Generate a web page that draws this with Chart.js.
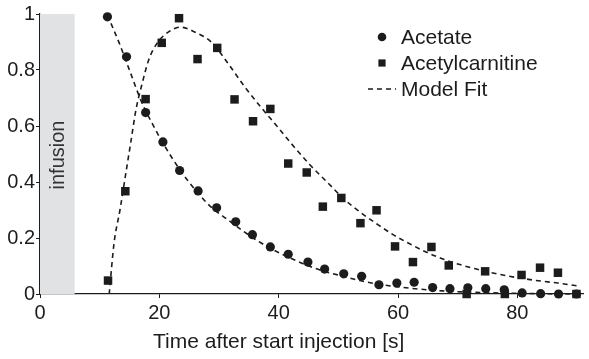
<!DOCTYPE html>
<html>
<head>
<meta charset="utf-8">
<script src="https://cdn.jsdelivr.net/npm/chart.js@4/dist/chart.umd.min.js"></script>
<style>
  html, body { margin: 0; padding: 0; background: #fff; }
  #wrap { width: 589px; height: 359px; }
</style>
</head>
<body>
<div id="wrap"><canvas id="chart" width="589" height="359"></canvas></div>
<script>
// measured points
const timeAcetate = [11.3, 14.5, 17.7, 20.6, 23.4, 26.5, 29.6, 32.8, 35.6, 38.6, 41.6, 44.9, 47.7, 50.9,
  53.9, 56.8, 59.8, 62.7, 65.8, 68.7, 71.7, 74.7, 77.8, 80.8, 83.9, 86.9, 89.9];
const acetate = [0.99, 0.847, 0.648, 0.543, 0.441, 0.368, 0.308, 0.258, 0.212, 0.168, 0.142, 0.114, 0.089, 0.072,
  0.063, 0.033, 0.039, 0.042, 0.023, 0.019, 0.022, 0.019, 0.015, 0.004, 0.001, 0.0, 0.0];

const timeCarnitine = [11.4, 14.3, 17.7, 20.4, 23.3, 26.4, 29.7, 32.6, 35.7, 38.6, 41.6, 44.7, 47.4, 50.5,
  53.7, 56.4, 59.5, 62.5, 65.6, 68.5, 71.5, 74.6, 77.9, 80.7, 83.8, 86.8, 89.9];
const carnitine = [0.048, 0.367, 0.696, 0.897, 0.985, 0.839, 0.879, 0.695, 0.617, 0.661, 0.466, 0.434, 0.312, 0.343,
  0.253, 0.299, 0.170, 0.114, 0.168, 0.102, 0.0, 0.081, 0.0, 0.068, 0.094, 0.076, 0.0];

// model fit curves
const fitTimeAcetate = [11.3, 13.3, 15.2, 16.9, 18.8, 21.0, 23.5, 26.1, 28.7, 31.5, 34.3, 37.0, 39.8, 42.6,
  45.3, 48.1, 50.9, 53.6, 56.4, 61.9, 67.4, 73.0, 78.5, 84.0, 90.1];
const fitAcetate = [0.996, 0.895, 0.788, 0.692, 0.609, 0.525, 0.442, 0.37, 0.31, 0.265, 0.221, 0.183, 0.15, 0.122,
  0.098, 0.078, 0.063, 0.048, 0.036, 0.021, 0.011, 0.006, 0.003, 0.001, 0.0];

const fitTimeCarnitine = [11.6, 12.4, 13.4, 14.3, 15.2, 16.1, 17.1, 18.2, 19.6, 21.6, 23.5, 26.0, 28.7, 31.5,
  34.3, 37.0, 39.8, 42.6, 45.3, 48.1, 50.9, 53.6, 56.4, 59.1, 61.9, 64.7, 67.4, 70.2, 73.0, 75.7, 78.5, 81.3,
  84.0, 86.8, 90.1];
const fitCarnitine = [0.0, 0.18, 0.30, 0.42, 0.54, 0.66, 0.75, 0.835, 0.895, 0.937, 0.953, 0.935, 0.90, 0.824,
  0.74, 0.668, 0.597, 0.525, 0.46, 0.40, 0.34, 0.293, 0.251, 0.213, 0.18, 0.15, 0.126, 0.106, 0.09, 0.076, 0.064,
  0.054, 0.046, 0.039, 0.029];

const xTickValues = [0, 20, 40, 60, 80];
const yTickValues = [0, 0.2, 0.4, 0.6, 0.8, 1];
const legendLabels = ["Acetate", "Acetylcarnitine", "Model Fit"];
const infusionLabel = "infusion";
const infusionEnd = 5.8;
const xTitle = "Time after start injection [s]";

const FONT = '"Liberation Sans", Arial, Helvetica, sans-serif';
const INK = "#1c1c1c";

function pairs(xs, ys) {
  return xs.map((x, i) => ({ x: x, y: ys[i] }));
}

// grey infusion band + rotated label
const infusionPlugin = {
  id: "infusion",
  beforeDatasetsDraw(chart) {
    const { ctx, scales: { x, y } } = chart;
    const left = x.getPixelForValue(0);
    const right = x.getPixelForValue(infusionEnd);
    const top = y.getPixelForValue(1);
    const bottom = y.getPixelForValue(0);
    ctx.save();
    ctx.fillStyle = "#e1e2e4";
    ctx.fillRect(left, top, right - left, bottom - top);
    ctx.translate((left + right) / 2, 155);
    ctx.rotate(-Math.PI / 2);
    ctx.fillStyle = "#333";
    ctx.font = "20px " + FONT;
    ctx.textAlign = "center";
    ctx.textBaseline = "middle";
    ctx.fillText(infusionLabel, 0, 1);
    ctx.restore();
  }
};

// legend inside the plot + x axis title centred at t = 40
const annotatePlugin = {
  id: "annotate",
  afterDraw(chart) {
    const { ctx, scales: { x } } = chart;
    ctx.save();
    ctx.fillStyle = INK;
    ctx.strokeStyle = INK;
    ctx.font = "21px " + FONT;
    ctx.textBaseline = "middle";
    ctx.textAlign = "left";

    const symX = 382, textX = 401;
    const rows = [37, 63, 89];
    ctx.beginPath();
    ctx.arc(symX, rows[0], 4.3, 0, Math.PI * 2);
    ctx.fill();
    ctx.fillRect(symX - 3.6, rows[1] - 3.6, 7.2, 7.2);
    ctx.lineWidth = 1.6;
    ctx.setLineDash([5, 4]);
    ctx.beginPath();
    ctx.moveTo(368, rows[2]);
    ctx.lineTo(396, rows[2]);
    ctx.stroke();
    ctx.setLineDash([]);
    legendLabels.forEach((t, i) => ctx.fillText(t, textX, rows[i] + 1));

    ctx.textAlign = "center";
    ctx.fillText(xTitle, x.getPixelForValue(40), 342);
    ctx.restore();
  }
};

const ctx = document.getElementById("chart").getContext("2d");
new Chart(ctx, {
  type: "scatter",
  data: {
    datasets: [
      {
        label: "Model Fit acetate",
        data: pairs(fitTimeAcetate, fitAcetate),
        showLine: true,
        borderColor: INK,
        borderWidth: 1.6,
        borderDash: [5, 4],
        pointRadius: 0,
        cubicInterpolationMode: "monotone",
        clip: false
      },
      {
        label: "Model Fit acetylcarnitine",
        data: pairs(fitTimeCarnitine, fitCarnitine),
        showLine: true,
        borderColor: INK,
        borderWidth: 1.6,
        borderDash: [5, 4],
        pointRadius: 0,
        cubicInterpolationMode: "monotone",
        clip: false
      },
      {
        label: "Acetate",
        data: pairs(timeAcetate, acetate),
        pointStyle: "circle",
        pointRadius: 4.6,
        backgroundColor: INK,
        borderColor: INK,
        borderWidth: 0,
        clip: false
      },
      {
        label: "Acetylcarnitine",
        data: pairs(timeCarnitine, carnitine),
        pointStyle: "rect",
        pointRadius: 6,
        backgroundColor: INK,
        borderColor: INK,
        borderWidth: 0,
        clip: false
      }
    ]
  },
  options: {
    responsive: false,
    animation: false,
    layout: { padding: { top: 14, right: 1, left: 0, bottom: 0 } },
    plugins: {
      legend: { display: false },
      tooltip: { enabled: false }
    },
    scales: {
      x: {
        type: "linear",
        min: 0,
        max: 91,
        afterBuildTicks: (s) => { s.ticks = xTickValues.map(v => ({ value: v })); },
        afterFit: (s) => { s.height = 65; },
        grid: { drawOnChartArea: false, drawTicks: true, tickLength: 4, color: INK, lineWidth: 1 },
        border: { display: true, color: INK, width: 1.2 },
        ticks: { color: INK, font: { family: FONT, size: 20 }, padding: 3, maxRotation: 0,
          callback: (v) => String(v) }
      },
      y: {
        type: "linear",
        min: 0,
        max: 1,
        afterBuildTicks: (s) => { s.ticks = yTickValues.map(v => ({ value: v })); },
        afterFit: (s) => { s.width = 40; },
        grid: { drawOnChartArea: false, drawTicks: true, tickLength: 4, color: INK, lineWidth: 1 },
        border: { display: true, color: INK, width: 1.2 },
        ticks: { color: INK, font: { family: FONT, size: 20 }, padding: 1,
          callback: (v) => String(Math.round(v * 10) / 10) }
      }
    }
  },
  plugins: [infusionPlugin, annotatePlugin]
});
</script>
</body>
</html>
